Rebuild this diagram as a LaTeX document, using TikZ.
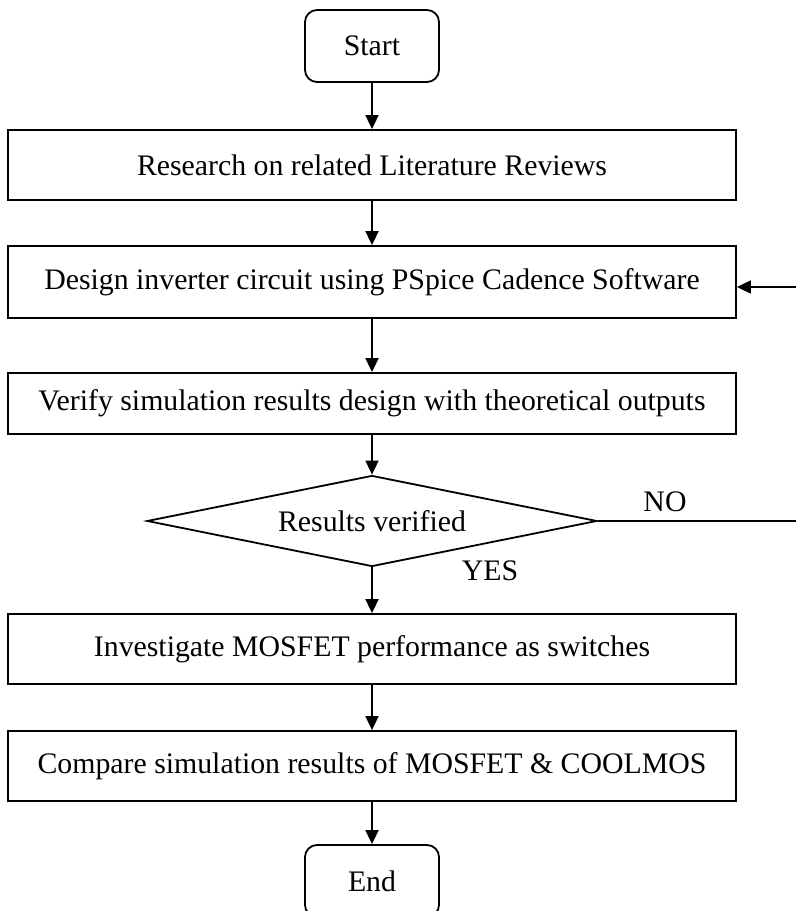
\documentclass[tikz,border=0pt]{standalone}
\usepackage{fontspec}
\setmainfont{Liberation Serif}
\usetikzlibrary{shapes.geometric, arrows.meta}

\begin{document}
\begin{tikzpicture}[x=0.5pt, y=0.5pt, line width=0.9pt,
  font=\fontsize{14.9}{18}\selectfont,
  procbox/.style={draw, rectangle, inner sep=0pt, minimum width=364pt},
  termbox/.style={draw, rectangle, rounded corners=6pt, inner sep=0pt, minimum width=67pt, minimum height=36pt},
  decbox/.style={draw, diamond, aspect=4.95, inner sep=0pt, minimum width=225pt, minimum height=45.5pt},
  flow/.style={-{Triangle[length=7pt, width=6.5pt]}}]
\useasboundingbox (0,0) rectangle (796,911);

\node[termbox] (start) at (372,865){Start};
\node[procbox, minimum height=35pt] (research) at (372,746){Research on related Literature Reviews};
\node[procbox, minimum height=36pt] (design) at (372,629){Design inverter circuit using PSpice Cadence Software};
\node[procbox, minimum height=30.5pt] (verify) at (372,507.5){Verify simulation results design with theoretical outputs};
\node[decbox] (check) at (372,390){Results verified};
\node[procbox, minimum height=35pt] (investigate) at (372,262){Investigate MOSFET performance as switches};
\node[procbox, minimum height=35pt] (compare) at (372,145){Compare simulation results of MOSFET \& COOLMOS};
\node[termbox] (end) at (372,30){End};

\node (no) at (665,409){NO};
\node (yes) at (490,340){YES};

\coordinate (noend) at (796,390);
\coordinate (loopin) at (796,624);

\draw[flow] (start) -- (research);
\draw[flow] (research) -- (design);
\draw[flow] (design) -- (verify);
\draw[flow] (verify) -- (check);
\draw[flow] (check) -- (investigate);
\draw[flow] (investigate) -- (compare);
\draw[flow] (compare) -- (end);

\draw (check.east) -- (noend);
\draw[flow] (loopin) -- (design.east |- loopin);

\end{tikzpicture}
\end{document}
